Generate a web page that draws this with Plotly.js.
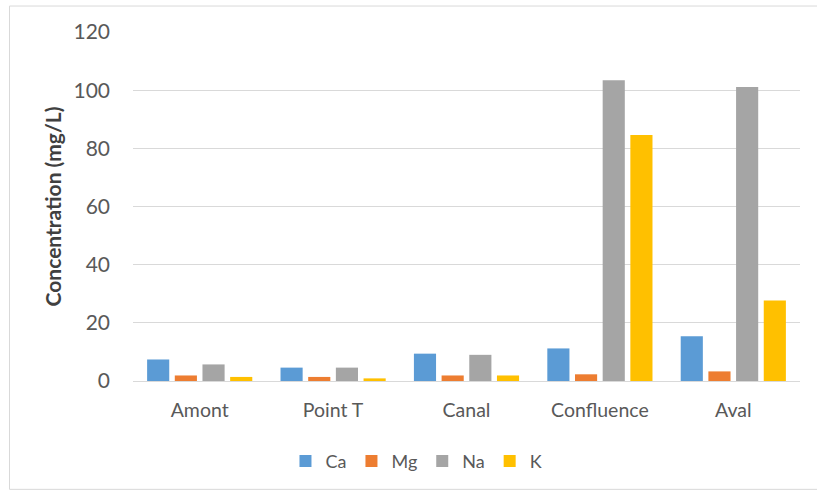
<!DOCTYPE html>
<html>
<head>
<meta charset="utf-8">
<script src="https://cdn.plot.ly/plotly-3.0.1.min.js"></script>
<style>
  html, body { margin: 0; padding: 0; background: #ffffff; }
  #chart { width: 817px; height: 493px; }
</style>
</head>
<body>
<div id="chart"></div>
<script>
const sites = ["Amont", "Point T", "Canal", "Confluence", "Aval"];
const ca = [7.4, 4.6, 9.4, 11.2, 15.4];
const mg = [1.9, 1.4, 1.9, 2.3, 3.3];
const na = [5.7, 4.6, 9.0, 103.4, 101.1];
const k  = [1.4, 0.9, 1.9, 84.6, 27.7];
const yTicks = [0, 20, 40, 60, 80, 100, 120];

const seriesNames = ["Ca", "Mg", "Na", "K"];
const seriesValues = [ca, mg, na, k];
const seriesColors = ["#5B9BD5", "#ED7D31", "#A5A5A5", "#FFC000"];

const traces = seriesNames.map((n, i) => ({
  type: "bar",
  name: n,
  x: sites,
  y: seriesValues[i],
  marker: { color: seriesColors[i], line: { width: 0 } },
  hoverinfo: "x+y+name"
}));

const font = "Lato, 'Open Sans', 'Liberation Sans', sans-serif";

const layout = {
  width: 817,
  height: 493,
  margin: { l: 133, r: 17, t: 32, b: 111.5 },
  paper_bgcolor: "#ffffff",
  plot_bgcolor: "#ffffff",
  barmode: "group",
  bargap: 0.17,
  bargroupgap: 0.2,
  showlegend: true,
  legend: {
    orientation: "h",
    x: 0.425, xanchor: "center",
    y: -0.23, yanchor: "middle",
    font: { family: font, size: 18, color: "#595959" },
    itemwidth: 30,
    tracegroupgap: 0
  },
  xaxis: {
    type: "category",
    tickfont: { family: font, size: 19.5, color: "#595959" },
    ticks: "",
    ticklabelstandoff: 12,
    showline: true,
    linecolor: "#D9D9D9",
    linewidth: 1,
    showgrid: false,
    fixedrange: true
  },
  yaxis: {
    range: [0, 120],
    tickvals: yTicks,
    ticktext: yTicks.map(String),
    tickfont: { family: font, size: 21, color: "#595959" },
    ticks: "",
    ticklabelstandoff: 22,
    showgrid: true,
    gridcolor: "#D9D9D9",
    gridwidth: 1,
    zeroline: false,
    showline: false,
    fixedrange: true,
    title: {
      text: "Concentration (mg/L)",
      font: { family: font, size: 21, color: "#404040", weight: "bold" },
      standoff: 6
    }
  },
  shapes: [{
    type: "rect",
    xref: "paper", yref: "paper",
    x0: (9.5 - 133) / 667, x1: (830 - 133) / 667,
    y0: -(490 - 381.5) / 349.5, y1: 1 + (32 - 6) / 349.5,
    line: { color: "#D9D9D9", width: 1 },
    fillcolor: "rgba(0,0,0,0)",
    layer: "below"
  }]
};

Plotly.newPlot("chart", traces, layout, { displayModeBar: false, staticPlot: true });
</script>
</body>
</html>
